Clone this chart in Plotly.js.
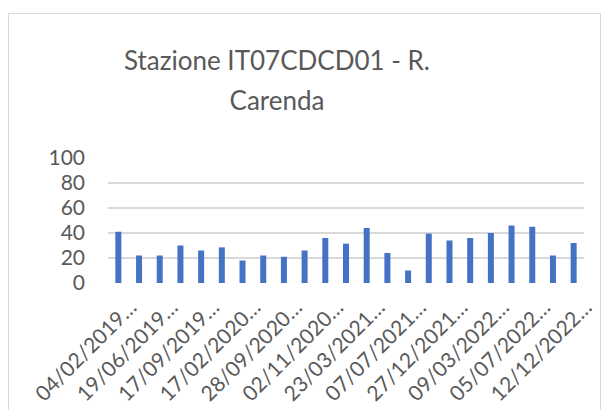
<!DOCTYPE html>
<html>
<head>
<meta charset="utf-8">
<script src="https://cdn.plot.ly/plotly-3.0.1.min.js"></script>
<style>
  html, body { margin: 0; padding: 0; background: #ffffff; }
  #wrap { position: relative; width: 609px; height: 410px; }
  #chart { position: absolute; left: 0; top: 0; width: 609px; height: 410px; }
  #frame { position: absolute; left: 8px; top: 13px; width: 591px; height: 400px;
           border: 1px solid #d9d9d9; pointer-events: none; }
</style>
</head>
<body>
<div id="wrap">
  <div id="chart"></div>
  <div id="frame"></div>
</div>
<script>
// Values (23 samples, every other date labelled)
const values = [41, 22, 22, 30, 26, 28.5, 18, 22, 21, 26, 36, 31.5, 44, 24, 10, 39.5, 34, 36, 40, 46, 45, 22, 32];
const tickLabels = ["04/02/2019…", "19/06/2019…", "17/09/2019…", "17/02/2020…", "28/09/2020…", "02/11/2020…",
                    "23/03/2021…", "07/07/2021…", "27/12/2021…", "09/03/2022…", "05/07/2022…", "12/12/2022…"];
const yTicks = [0, 20, 40, 60, 80, 100];
const titleText = "Stazione IT07CDCD01 - R.<br>Carenda";

const positions = values.map((v, i) => i);
const labelPositions = tickLabels.map((t, i) => i * 2);

const textColor = "#595959";
const font = "Lato, 'Open Sans', sans-serif";

Plotly.newPlot("chart", [{
  type: "bar",
  x: positions,
  y: values,
  marker: { color: "#4472c4" },
  hoverinfo: "y"
}], {
  width: 609,
  height: 410,
  margin: { l: 108, r: 25, t: 158, b: 127, pad: 0 },
  paper_bgcolor: "#ffffff",
  plot_bgcolor: "#ffffff",
  bargap: 0.71,
  showlegend: false,
  title: {
    text: "<span style='font-size:26px'>" + titleText.replace("<br>", "</span><br><span style='font-size:26px'>") + "</span>",
    font: { family: font, size: 31, color: textColor },
    x: 277 / 609,
    xref: "container",
    xanchor: "center",
    y: 1 - 70 / 410,
    yref: "container",
    yanchor: "top"
  },
  xaxis: {
    range: [-0.5, values.length - 0.5],
    tickmode: "array",
    tickvals: labelPositions,
    ticktext: tickLabels,
    tickangle: -45,
    tickfont: { family: font, size: 21, color: textColor },
    ticklabelshift: 12,
    ticklabelstandoff: 7,
    showgrid: false,
    zeroline: false,
    showline: false,
    ticks: "",
    fixedrange: true
  },
  yaxis: {
    range: [0, 100],
    tickmode: "array",
    tickvals: yTicks,
    ticktext: yTicks.map(String),
    tickfont: { family: font, size: 21, color: textColor },
    ticklabelstandoff: 22,
    showgrid: true,
    gridcolor: "#d9d9d9",
    gridwidth: 1.5,
    zeroline: false,
    showline: false,
    ticks: "",
    ticklen: 0,
    fixedrange: true
  }
}, { displayModeBar: false, staticPlot: true });
</script>
</body>
</html>
